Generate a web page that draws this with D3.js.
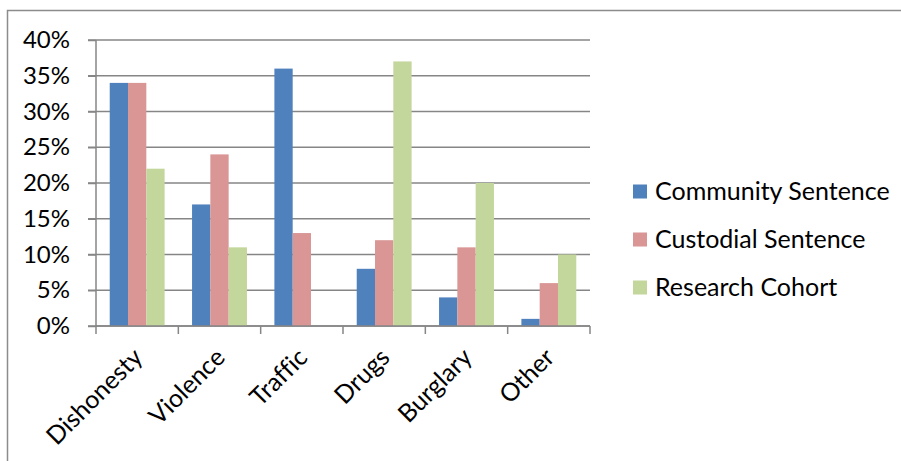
<!DOCTYPE html>
<html>
<head>
<meta charset="utf-8">
<script src="https://cdn.jsdelivr.net/npm/d3@7"></script>
<style>
  body { margin: 0; background: #fff; }
  text { font-family: Lato, "Liberation Sans", sans-serif; fill: #000; font-variant-ligatures: none; }
</style>
</head>
<body>
<div id="chart"></div>
<script>
var categories = ['Dishonesty', 'Violence', 'Traffic', 'Drugs', 'Burglary', 'Other'];
var series_names = ['Community Sentence', 'Custodial Sentence', 'Research Cohort'];
var community = [34, 17, 36, 8, 4, 1];
var custodial = [34, 24, 13, 12, 11, 6];
var cohort = [22, 11, 0, 37, 20, 10];
var y_ticks = [0, 5, 10, 15, 20, 25, 30, 35, 40];

var colors = ['#4F81BD', '#D99694', '#C3D69B'];
var series = [community, custodial, cohort];

var chart_width = 901;
var chart_height = 461;
var plot = { left: 96, right: 590, top: 40, bottom: 326 };

var svg = d3.select('#chart')
            .append('svg')
            .attr('width', chart_width)
            .attr('height', chart_height);

// chart area border (runs off the right and bottom of the picture)
svg.append('rect')
    .attr('x', 7.5)
    .attr('y', 10.5)
    .attr('width', 1000)
    .attr('height', 1000)
    .attr('fill', 'none')
    .attr('stroke', '#8c8c8c')
    .attr('stroke-width', 1.5);

var x_scale = d3.scaleBand()
                .domain(categories)
                .range([plot.left, plot.right]);

// Excel style: gap width 150% -> each bar is band / 4.5
var x_inner = d3.scaleBand()
                .domain(series_names)
                .range([0, x_scale.bandwidth()])
                .paddingInner(0)
                .paddingOuter(0.75);

var y_scale = d3.scaleLinear()
                .domain([0, 40])
                .range([plot.bottom, plot.top]);

// gridlines
svg.append('g')
    .selectAll('line')
    .data(y_ticks)
    .enter()
    .append('line')
    .attr('x1', plot.left - 8)
    .attr('x2', plot.right)
    .attr('y1', (d) => y_scale(d))
    .attr('y2', (d) => y_scale(d))
    .attr('stroke', '#868686')
    .attr('stroke-width', 1.5);

// bars
series.forEach((vals, s) => {
    svg.append('g')
        .selectAll('rect')
        .data(vals)
        .enter()
        .append('rect')
        .attr('x', (d, i) => x_scale(categories[i]) + x_inner(series_names[s]))
        .attr('y', (d) => y_scale(d))
        .attr('width', x_inner.bandwidth())
        .attr('height', (d) => plot.bottom - y_scale(d))
        .attr('fill', colors[s]);
});

// y axis
var y_axis = d3.axisLeft(y_scale)
                .tickValues(y_ticks)
                .tickSize(8)
                .tickPadding(18)
                .tickFormat((d) => d + '%');
var gy = svg.append('g')
    .attr('transform', 'translate(' + plot.left + ',0)')
    .call(y_axis);
gy.selectAll('line, path').attr('stroke', '#868686').attr('stroke-width', 1.5);
gy.select('.domain').attr('d', 'M0,' + plot.bottom + 'V' + plot.top);
gy.selectAll('text')
    .style('font-size', '24px')
    .style('font-family', 'Lato, sans-serif')
    .attr('fill', '#000');

// x axis
var x_axis = d3.axisBottom(x_scale).tickSize(0).tickFormat('');
var gx = svg.append('g')
    .attr('transform', 'translate(0,' + plot.bottom + ')')
    .call(x_axis);
gx.select('.domain').attr('d', 'M' + plot.left + ',0H' + plot.right)
    .attr('stroke', '#868686').attr('stroke-width', 1.5);

// category dividers ticks
var edges = categories.map((c) => x_scale(c)).concat([plot.right]);
gx.selectAll('.edge')
    .data(edges)
    .enter()
    .append('line')
    .attr('x1', (d) => d)
    .attr('x2', (d) => d)
    .attr('y1', 0)
    .attr('y2', 8)
    .attr('stroke', '#868686')
    .attr('stroke-width', 1.5);

// rotated category labels
svg.append('g')
    .selectAll('text')
    .data(categories)
    .enter()
    .append('text')
    .attr('transform', (d) => 'translate(' + (x_scale(d) + x_scale.bandwidth() / 2 + 7) + ',' + 359 + ') rotate(-45)')
    .attr('text-anchor', 'end')
    .style('font-size', '25px')
    .text((d) => d);

// legend
var legend = svg.append('g')
    .selectAll('g')
    .data(series_names)
    .enter()
    .append('g')
    .attr('transform', (d, i) => 'translate(633,' + (191.5 + i * 48) + ')');
legend.append('rect')
    .attr('x', 0)
    .attr('y', -7)
    .attr('width', 14)
    .attr('height', 14)
    .attr('fill', (d, i) => colors[i]);
legend.append('text')
    .attr('x', 22)
    .attr('y', 8.5)
    .style('font-size', '25px')
    .text((d) => d);
</script>
</body>
</html>
